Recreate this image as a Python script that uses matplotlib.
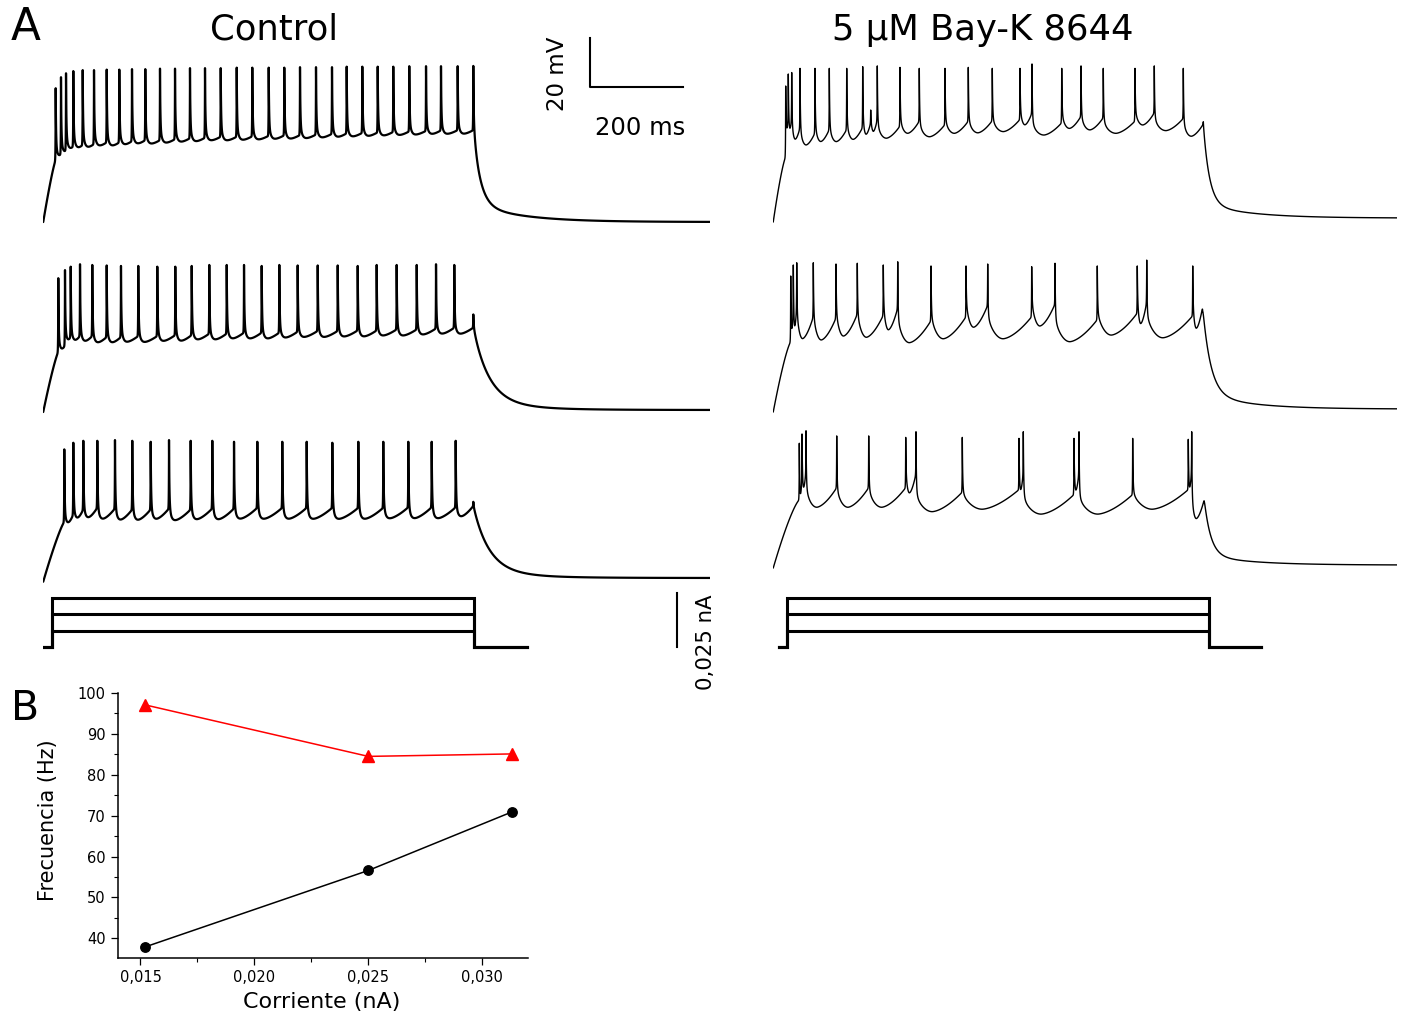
import numpy as np
import matplotlib
matplotlib.use("Agg")
import matplotlib.pyplot as plt
from matplotlib.ticker import FixedLocator

plt.rcParams['font.family'] = ['DejaVu Sans']
plt.rcParams['path.simplify'] = False

# ---------------- panel A, read off the sweeps ----------------
# spike times (ms from sweep start), spike peaks and the trough after each spike (mV)
ctrl1_spikes = [27.3, 38.7, 49.5, 65.2, 85.4, 109.7, 137.0, 164.1, 191.4, 220.0,
                251.6, 283.9, 316.1, 348.4, 382.2, 416.6, 450.1, 485.4, 518.9, 552.7,
                587.1, 621.5, 653.1, 686.7, 719.8, 753.3, 787.7, 823.7, 855.9, 891.8]
ctrl1_peaks = [-5.4, -0.9, 0.7, 1.6, 2.0, 2.0, 2.2, 2.2, 2.4, 2.4,
               2.6, 2.6, 2.8, 2.8, 2.8, 3.0, 3.0, 3.0, 3.0, 3.2,
               3.2, 3.2, 3.4, 3.4, 3.4, 3.4, 3.6, 3.6, 3.6, 3.6]
ctrl1_troughs = [-34.7, -33.3, -31.3, -30.6, -30.2, -29.5, -29.5, -29.0, -28.6, -28.6,
                 -28.2, -27.8, -27.6, -27.2, -27.2, -27.0, -26.8, -26.6, -26.5, -26.3,
                 -26.0, -25.8, -25.6, -25.4, -25.2, -25.0, -24.8, -24.6, -24.5, -24.5]

ctrl2_spikes = [32.9, 47.3, 59.6, 79.6, 106.0, 137.0, 167.7, 204.9, 245.8, 284.5,
                319.8, 357.6, 395.1, 432.3, 470.3, 508.2, 547.7, 590.8, 633.8, 676.8,
                717.6, 760.6, 803.7, 845.2, 884.5]
ctrl2_peaks = [-6.2, -2.9, -1.5, -0.5, -0.8, -1.0, -1.2, -1.2, -1.5, -1.5,
               -1.2, -0.8, -0.8, -0.8, -1.2, -0.8, -1.0, -1.0, -1.0, -1.2,
               -0.8, -0.8, -0.8, -0.5, -0.8]
ctrl2_troughs = [-36.9, -33.5, -32.8, -32.8, -33.2, -33.2, -32.8, -32.8, -32.4, -32.4,
                 -31.8, -31.8, -31.4, -31.4, -31.4, -31.0, -30.7, -30.7, -30.5, -30.5,
                 -30.1, -30.1, -29.7, -29.4, -29.4]

ctrl3_spikes = [45.8, 65.2, 86.7, 116.8, 154.8, 192.0, 231.6, 271.0, 317.6, 364.1,
                410.8, 460.9, 514.6, 567.1, 622.2, 678.1, 731.8, 785.6, 835.9, 887.5]
ctrl3_peaks = [-7.5, -4.8, -4.0, -4.0, -3.7, -4.0, -4.4, -3.7, -4.0, -4.0,
               -4.4, -4.4, -4.4, -4.4, -4.8, -4.4, -4.4, -4.4, -4.4, -4.0]
ctrl3_troughs = [-39.1, -37.0, -36.3, -36.6, -37.0, -37.0, -36.6, -37.0, -36.6, -36.6,
                 -36.3, -36.3, -36.3, -36.3, -36.3, -36.3, -36.1, -36.1, -36.1, -35.6]

bayk1_spikes = [27.3, 32.9, 40.2, 58.1, 90.3, 121.1, 158.5, 192.9, 210.1, 224.3,
                273.1, 314.6, 369.9, 420.0, 471.6, 531.2, 557.0, 620.9, 662.4, 710.3,
                778.5, 820.0, 882.4]
bayk1_peaks = [-4.5, 0.4, 1.0, 2.7, 2.7, 2.7, 2.7, 3.4, -14.3, 3.7,
               3.1, 2.7, 2.7, 3.1, 2.7, 2.7, 4.5, 2.7, 3.7, 2.7,
               2.7, 3.7, 2.7]
bayk1_troughs = [-23.1, -23.1, -26.5, -28.6, -27.2, -27.2, -26.3, -24.5, -23.1, -25.8,
                 -23.8, -25.2, -23.8, -23.6, -23.1, -20.4, -24.5, -21.8, -22.4, -23.8,
                 -20.4, -22.7, -25.0]

bayk2_spikes = [38.1, 43.7, 51.0, 86.7, 135.5, 181.3, 237.2, 268.2, 339.8, 415.1,
                461.7, 556.3, 606.5, 697.4, 783.4, 803.7, 902.6]
bayk2_peaks = [-4.5, 0.0, 0.9, 0.9, 0.4, 0.7, 0.0, 1.3, -0.4, -0.4,
               0.4, -0.7, 0.7, -0.4, -0.4, 2.0, -0.4]
bayk2_troughs = [-27.9, -26.5, -30.1, -30.6, -29.0, -29.5, -26.5, -31.7, -30.1, -25.4,
                 -30.1, -24.9, -31.3, -28.6, -24.1, -29.7, -26.0]

bayk3_spikes = [56.6, 62.4, 71.0, 137.0, 205.8, 285.4, 307.5, 407.1, 529.0, 538.3,
                647.3, 658.1, 773.5, 893.1, 900.4]
bayk3_peaks = [-9.1, -5.3, -4.0, -6.1, -6.1, -6.7, -4.4, -6.7, -7.1, -4.4,
               -7.1, -4.4, -7.1, -7.5, -4.4]
bayk3_troughs = [-31.6, -28.2, -35.2, -35.2, -35.2, -29.5, -37.0, -36.0, -28.9, -38.0,
                 -28.9, -38.0, -36.0, -28.2, -40.0]

# step onset (ms), potential just before 1st spike, step end (ms), off-transient peak, rest before/after (mV)
ctrl_onset = [0.5, 0.5, 0.5]
ctrl_first = [-34.7, -36.3, -37.1]
ctrl_off = [925.4, 925.4, 925.4]
ctrl_bump = [3.7, -21.0, -28.9]
ctrl_rest0 = [-60.0, -60.8, -61.5]
ctrl_rest1 = [-60.0, -60.0, -60.0]

bayk_onset = [0.5, 0.5, 0.5]
bayk_first = [-33.5, -31.4, -32.2]
bayk_off = [925.4, 924.1, 927.5]
bayk_bump = [-19.1, -19.3, -33.0]
bayk_rest0 = [-60.0, -60.0, -60.0]
bayk_rest1 = [-58.4, -58.8, -58.8]

# injected current steps (nA) and their timing (ms): baseline start, on, off, baseline end
step_amps = [0.0075, 0.015, 0.0225]
ctrl_step = [2.2, 20.0, 927.5, 1040.9]
bayk_step = [12.9, 30.1, 937.6, 1049.5]

# ---------------- panel B ----------------
current_nA = [0.0152, 0.025, 0.0313]
freq_control = [37.9, 56.6, 70.9]
freq_bayk = [97.1, 84.5, 85.1]

# ---------------- waveform shape (not data) ----------------
ctrl_shape = [(0.10, 1.0, 2.0), (0.10, 1.0, 3.0), (0.12, 1.5, 5.0)]
bayk_shape = [(0.40, 4.0, 5.0), (0.35, 8.0, 9.0), (0.35, 6.0, 8.0)]
ctrl_decay = [(15, 100, 0.8), (34, 100, 0.9), (34, 100, 0.9)]
bayk_decay = [(13, 100, 0.85), (17, 100, 0.85), (14, 100, 0.85)]


def make_trace(t, spikes, peaks, troughs, t_on, v_first, t_off, v_bump,
               rest0, rest1, shape, decay, rise_pow, tail):
    u_min, a1, a2 = shape
    spikes = np.asarray(spikes, float)
    v = np.full(t.shape, rest0)
    m = (t >= t_on) & (t < spikes[0])
    s = (t[m] - t_on) / (spikes[0] - t_on)
    v[m] = rest0 + (v_first - rest0) * (1 - (1 - s) ** rise_pow)
    ends = np.append(spikes[1:], t_off)
    for t0, t1, lo in zip(spikes, ends, troughs):
        m = (t >= t0) & (t < t1)
        u = (t[m] - t0) / (t1 - t0)
        v[m] = (lo + a1 * np.clip((u_min - u) / u_min, 0, 1) ** 2
                + a2 * np.clip((u - u_min) / (1 - u_min), 0, 1) ** 1.6)
    v_end = troughs[-1] + a2
    m = t >= t_off
    d = t[m] - t_off
    tau1, tau2, frac = decay
    v[m] = rest1 + (v_end - rest1) * (frac * np.exp(-d / tau1) + (1 - frac) * np.exp(-d / tau2))
    tf, ts_ = tail
    for ts, vp in zip(list(spikes) + [t_off], list(peaks) + [v_bump]):
        i = np.searchsorted(t, ts)
        dt = t - t[i]
        left = (vp - v[i - 1]) * np.exp(np.minimum(dt, 0) / 0.35)
        dp = np.maximum(dt, 0)
        right = (vp - v[i]) * ((1 - tf) * np.exp(-dp / 0.8) + tf * np.exp(-dp / ts_))
        v = v + np.where(dt < 0, left, right)
    return v


W, H = 1403, 1015
PX_MS = 0.465    # 200 ms bar = 93 px
PX_MV = 2.45     # 20 mV bar = 49 px
PX_NA = 2172     # 0.025 nA bar = 54 px

fig = plt.figure(figsize=(W / 100, H / 100), dpi=100)


def px_axes(x0, y0, x1, y1):
    return fig.add_axes([x0 / W, 1 - y1 / H, (x1 - x0) / W, (y1 - y0) / H])


def ftext(x, y, s, **kw):
    fig.text(x / W, 1 - y / H, s, **kw)


columns = [
    dict(x0=43, t_end=1434, base=[222, 410, 578], lw=1.6, rise=1.2, tail=(0.25, 4.0),
         traces=[(ctrl1_spikes, ctrl1_peaks, ctrl1_troughs),
                 (ctrl2_spikes, ctrl2_peaks, ctrl2_troughs),
                 (ctrl3_spikes, ctrl3_peaks, ctrl3_troughs)],
         onset=ctrl_onset, first=ctrl_first, off=ctrl_off, bump=ctrl_bump,
         rest0=ctrl_rest0, rest1=ctrl_rest1, shape=ctrl_shape, decay=ctrl_decay, step=ctrl_step),
    dict(x0=773, t_end=1342, base=[222, 412, 568], lw=1.0, rise=1.3, tail=(0.15, 3.0),
         traces=[(bayk1_spikes, bayk1_peaks, bayk1_troughs),
                 (bayk2_spikes, bayk2_peaks, bayk2_troughs),
                 (bayk3_spikes, bayk3_peaks, bayk3_troughs)],
         onset=bayk_onset, first=bayk_first, off=bayk_off, bump=bayk_bump,
         rest0=bayk_rest0, rest1=bayk_rest1, shape=bayk_shape, decay=bayk_decay, step=bayk_step),
]

axes_v = []
axes_i = []
for col in columns:
    x1 = col['x0'] + col['t_end'] * PX_MS
    b0 = col['base'][0]
    axv = px_axes(col['x0'], 0, x1, 600)
    axv.set_xlim(0, col['t_end'])
    axv.set_ylim(-60 - (600 - b0) / PX_MV, -60 + b0 / PX_MV)
    axv.axis('off')
    t = np.arange(0, col['t_end'], 0.05)
    for r, (spk, pk, tr) in enumerate(col['traces']):
        v = make_trace(t, spk, pk, tr, col['onset'][r], col['first'][r], col['off'][r],
                       col['bump'][r], col['rest0'][r], col['rest1'][r], col['shape'][r],
                       col['decay'][r], col['rise'], col['tail'])
        offset = -(col['base'][r] - b0) / PX_MV
        axv.plot(t, v + offset, color='black', lw=col['lw'], solid_joinstyle='round')
    axes_v.append(axv)

    axi = px_axes(col['x0'], 575, x1, 700)
    axi.set_xlim(0, col['t_end'])
    axi.set_ylim(-(700 - 647) / PX_NA, (647 - 575) / PX_NA)
    axi.axis('off')
    ta, ton, toff, tb = col['step']
    for amp in step_amps:
        axi.plot([ta, ton, ton, toff, toff, tb], [0, 0, amp, amp, 0, 0],
                 color='black', lw=2.2, solid_joinstyle='miter')
    axes_i.append(axi)

# scale bars
axv = axes_v[0]
t0 = (590 - 43) / PX_MS
v0 = -60 + (222 - 87) / PX_MV
axv.plot([t0, t0, t0 + 200], [v0 + 20, v0, v0], color='black', lw=1.5)
axv.text((564 - 43) / PX_MS, -60 + (222 - 74) / PX_MV, '20 mV', rotation=90,
         rotation_mode='anchor', ha='center', va='baseline', fontsize=16.5)
axv.text((640.5 - 43) / PX_MS, -60 + (222 - 135) / PX_MV, '200 ms',
         ha='center', va='baseline', fontsize=17.5)

axi = axes_i[0]
tb = (677.3 - 43) / PX_MS
axi.plot([tb, tb], [0, 0.025], color='black', lw=1.5)
axi.text((711.7 - 43) / PX_MS, (647 - 642) / PX_NA, '0,025 nA', rotation=90,
         rotation_mode='anchor', ha='center', va='baseline', fontsize=15.3)

# titles and panel letters
ftext(274, 40, 'Control', ha='center', va='baseline', fontsize=25.5)
ftext(983, 40, '5 µM Bay-K 8644', ha='center', va='baseline', fontsize=25.5)
ftext(11, 40, 'A', ha='left', va='baseline', fontsize=31.5)
ftext(11, 720, 'B', ha='left', va='baseline', fontsize=29.5)

# ---------------- panel B ----------------
axb = px_axes(117.7, 693, 527.7, 958)
axb.plot(current_nA, freq_bayk, color='red', lw=1.1, marker='^', ms=8.5, clip_on=False)
axb.plot(current_nA, freq_control, color='black', lw=1.1, marker='o', ms=6.8, clip_on=False)
axb.set_xlim(0.014, 0.032)
axb.set_ylim(35.2, 100)
axb.set_xticks([0.015, 0.020, 0.025, 0.030])
axb.set_xticklabels(['0,015', '0,020', '0,025', '0,030'])
axb.set_yticks([40, 50, 60, 70, 80, 90, 100])
axb.xaxis.set_minor_locator(FixedLocator([0.0175, 0.0225, 0.0275]))
axb.yaxis.set_minor_locator(FixedLocator([45, 55, 65, 75, 85, 95]))
axb.tick_params(which='major', direction='out', length=5, width=0.9, labelsize=10.5, pad=3.5)
axb.tick_params(which='minor', direction='out', length=3, width=0.8)
for side in ['top', 'right']:
    axb.spines[side].set_visible(False)
for side in ['left', 'bottom']:
    axb.spines[side].set_linewidth(1.1)
ftext(322, 1008, 'Corriente (nA)', ha='center', va='baseline', fontsize=16)
fig.text(54 / W, 1 - 820 / H, 'Frecuencia (Hz)', rotation=90, rotation_mode='anchor',
         ha='center', va='baseline', fontsize=15)

fig.savefig('out.png', dpi=100)
